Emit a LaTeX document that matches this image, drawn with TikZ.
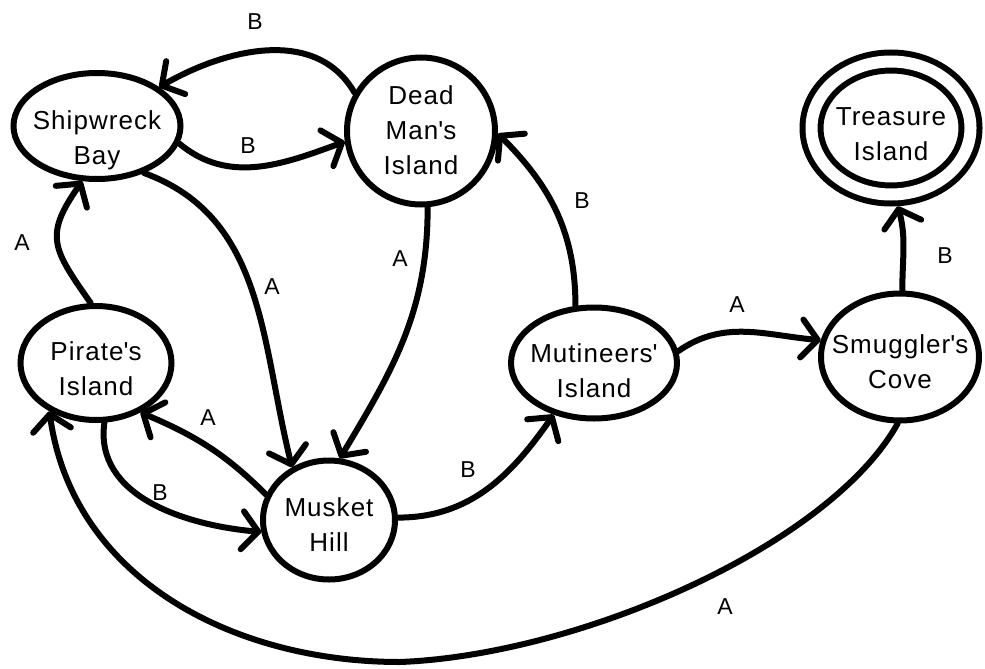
\documentclass[tikz,border=0pt]{standalone}
\usepackage{fontspec}
\setmainfont{Liberation Sans}[LetterSpace=4]
\usetikzlibrary{shapes.geometric,arrows.meta}

\newcommand{\apo}{\textquotesingle}
\tikzset{
  island/.style={draw, ellipse, line width=6pt, inner xsep=-25pt, inner ysep=-8pt,
    align=center, text depth=0pt, font=\fontsize{26}{35}\selectfont},
  hop/.style={line width=6pt, line cap=round,
    -{Straight Barb[length=16pt,width=38pt,round]}},
  sym/.style={inner sep=0pt, font=\fontsize{23}{28}\selectfont}
}

\begin{document}
\begin{tikzpicture}[x=1pt,y=1pt]
    \useasboundingbox (0,0) rectangle (985,-669);
    % islands
    \node[island,minimum width=167pt,minimum height=106pt,text height=76pt] (ship) at (97,-126) {Shipwreck\\Bay};
    \node[island,minimum width=148pt,minimum height=147pt,text height=87pt] (dead) at (421,-131) {Dead\\Man\apo s\\Island};
    \node[island,double,double distance=12pt,outer sep=12pt,text height=65pt,
      minimum width=159pt,minimum height=133pt] (treas) at (891,-128) {Treasure\\Island};
    \node[island,minimum width=151pt,minimum height=114pt,text height=65pt] (pir) at (96,-363) {Pirate\apo s\\Island};
    \node[island,minimum width=132pt,minimum height=119pt,text height=63pt] (musk) at (329,-520) {Musket\\Hill};
    \node[island,minimum width=166pt,minimum height=111pt,text height=68pt] (mut) at (594,-363) {Mutineers\apo\\Island};
    \node[island,minimum width=158pt,minimum height=127pt,text height=62pt] (smug) at (900,-357) {Smuggler\apo s\\Cove};
    \coordinate (low) at (400,-662);
    % routes
    \draw[hop] (dead.150) to[out=120,in=30] (ship.32);
    \draw[hop] (ship.-12) to[out=-40,in=200] (dead.188);
    \draw[hop] (pir.95) to[out=125,in=-125,looseness=1.4] (ship.255);
    \draw[hop] (ship.-45) to[out=-20,in=104] (musk.125);
    \draw[hop] (dead.-85) to[out=-90,in=59] (musk.80);
    \draw[hop] (musk.158) to[out=135,in=-23] (pir.-48);
    \draw[hop] (pir.-82) to[out=-98,in=175] (musk.190);
    \draw[hop] (musk.2) to[out=0,in=-125] (mut.232);
    \draw[hop] (mut.108) to[out=90,in=-45] (dead.-2);
    \draw[hop] (mut.8) to[out=35,in=175] (smug.168);
    \draw[hop] (smug.88) to[out=90,in=-75] (treas.-85);
    \draw[hop] (smug.-92) .. controls (830,-545) and (580,-655) .. (low)
      to[out=180,in=-82] (pir.226);
    % letters
    \node[sym] (lb1) at (255,-22) {B};
    \node[sym] (lb2) at (248,-146) {B};
    \node[sym] (la1) at (22,-243) {A};
    \node[sym] (la2) at (272,-287) {A};
    \node[sym] (la3) at (400,-259) {A};
    \node[sym] (la4) at (208,-418) {A};
    \node[sym] (lb3) at (160,-493) {B};
    \node[sym] (lb4) at (468,-470) {B};
    \node[sym] (lb5) at (582,-201) {B};
    \node[sym] (la5) at (737,-305) {A};
    \node[sym] (lb6) at (945,-256) {B};
    \node[sym] (la6) at (725,-607) {A};
\end{tikzpicture}
\end{document}
